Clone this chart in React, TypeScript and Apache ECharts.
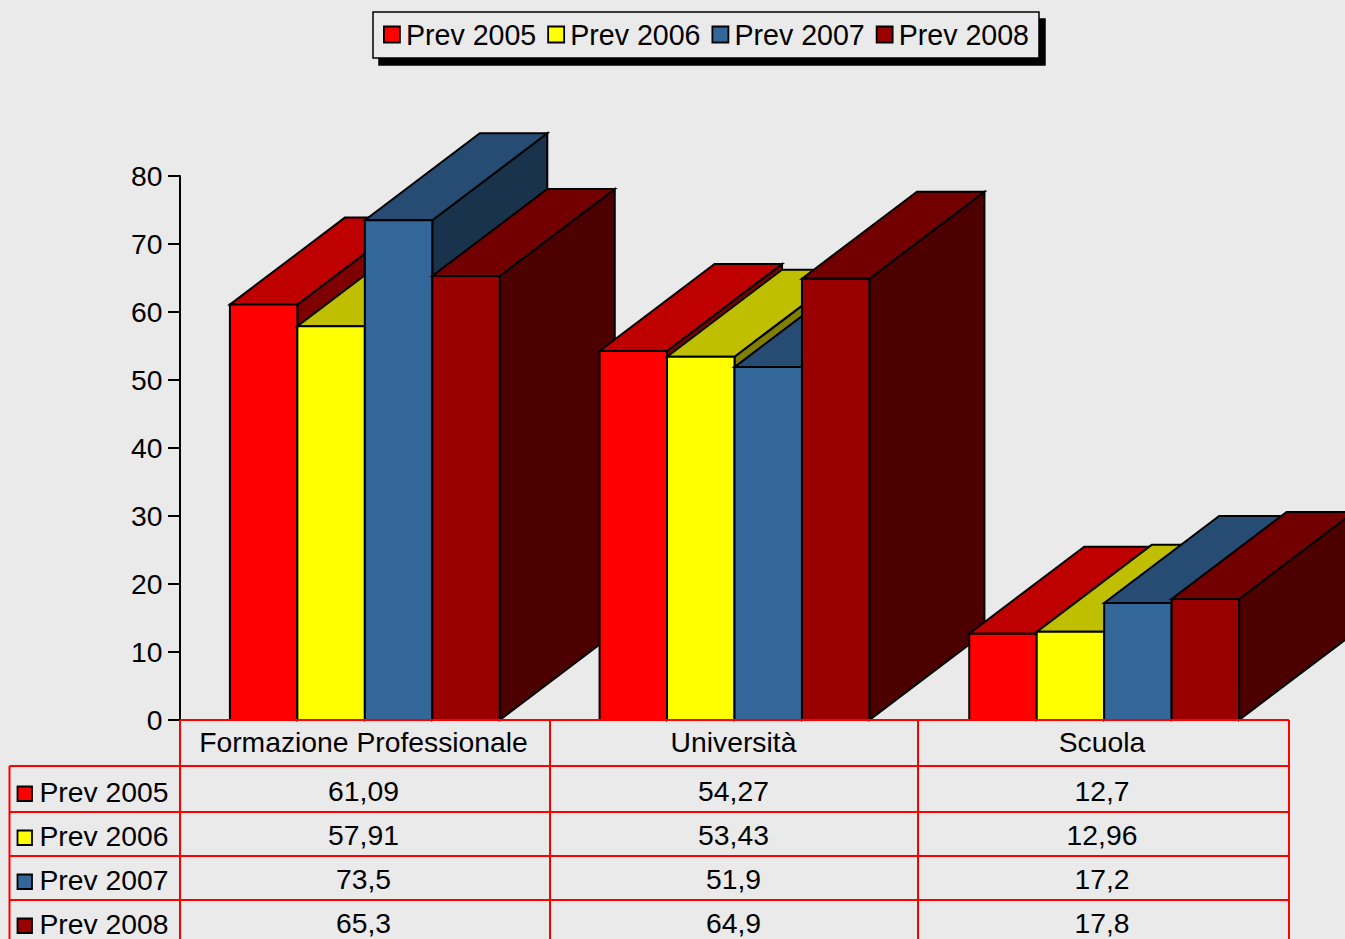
import React, { useEffect, useRef } from "react";
import * as echarts from "echarts";

const categories = ["Formazione Professionale", "Università", "Scuola"];
const seriesNames = ["Prev 2005", "Prev 2006", "Prev 2007", "Prev 2008"];
const prev2005 = [61.09, 54.27, 12.7];
const prev2006 = [57.91, 53.43, 12.96];
const prev2007 = [73.5, 51.9, 17.2];
const prev2008 = [65.3, 64.9, 17.8];
const allValues = [prev2005, prev2006, prev2007, prev2008];
const frontColors = ["#FF0000", "#FFFF00", "#336699", "#990000"];
const topColors = ["#BF0000", "#BFBF00", "#264C73", "#730000"];
const sideColors = ["#7F0000", "#7F7F00", "#19334C", "#4C0000"];

const FONT = "'Liberation Sans', Arial, sans-serif";
const GRID = { left: 180, top: 176, width: 1109, height: 544 };
const DEPTH_X = 115;
const DEPTH_Y = -87;
const BAR_GROUP = 0.73;
const TABLE_RED = "#FF0000";
const rowLines = [766, 812, 856, 900];
const colLines = [180, 550, 918, 1289];
const colCentres = [363.5, 733.5, 1102];
const rowText = [791, 835, 879, 923];

function tableGraphics() {
  const els: any[] = [];
  const line = (x1: number, y1: number, x2: number, y2: number) => ({
    type: "line",
    silent: true,
    shape: { x1, y1, x2, y2 },
    style: { stroke: TABLE_RED, lineWidth: 2 },
    z: 90,
  });
  els.push(line(180, 720, 1289, 720));
  rowLines.forEach((y) => els.push(line(9.5, y, 1289, y)));
  colLines.forEach((x) => els.push(line(x, 720, x, 939)));
  els.push(line(9.5, 766, 9.5, 939));
  categories.forEach((name, c) => {
    els.push({
      type: "text",
      silent: true,
      x: colCentres[c],
      y: 742,
      style: { text: name, font: `28.3px ${FONT}`, fill: "#000", verticalAlign: "middle", align: "center" },
      z: 91,
    });
  });
  seriesNames.forEach((name, i) => {
    els.push({
      type: "rect",
      silent: true,
      shape: { x: 17.5, y: rowText[i] - 4.5, width: 14.5, height: 14.5 },
      style: { fill: frontColors[i], stroke: "#000", lineWidth: 1.8 },
      z: 91,
    });
    els.push({
      type: "text",
      silent: true,
      x: 39.5,
      y: rowText[i] + 1,
      style: { text: name, font: `28.3px ${FONT}`, fill: "#000", verticalAlign: "middle", align: "left" },
      z: 91,
    });
    categories.forEach((_, c) => {
      els.push({
        type: "text",
        silent: true,
        x: colCentres[c],
        y: rowText[i],
        style: {
          text: String(allValues[i][c]).replace(".", ","),
          font: `28.3px ${FONT}`,
          fill: "#000",
          verticalAlign: "middle",
          align: "center",
        },
        z: 91,
      });
    });
  });
  return els;
}

function makeRender(s: number) {
  return (_params: any, api: any) => {
    const c = api.value(0);
    const base = api.coord([c, 0]);
    const top = api.coord([c, api.value(1)]);
    const groupW = api.size([1, 0])[0] * BAR_GROUP;
    const w = groupW / 4;
    const x0 = base[0] - groupW / 2 + s * w;
    const x1 = x0 + w;
    const yT = top[1];
    const yB = base[1];
    const stroke = { stroke: "#000", lineWidth: 2, lineJoin: "miter" };
    const order = c * 100 + s * 10;
    return {
      type: "group",
      children: [
        {
          type: "polygon",
          z2: order,
          shape: { points: [[x1, yB], [x1, yT], [x1 + DEPTH_X, yT + DEPTH_Y], [x1 + DEPTH_X, yB + DEPTH_Y]] },
          style: { fill: sideColors[s], ...stroke },
        },
        {
          type: "polygon",
          z2: order + 1,
          shape: { points: [[x0, yT], [x1, yT], [x1 + DEPTH_X, yT + DEPTH_Y], [x0 + DEPTH_X, yT + DEPTH_Y]] },
          style: { fill: topColors[s], ...stroke },
        },
        {
          type: "polygon",
          z2: order + 2,
          shape: { points: [[x0, yB], [x1, yB], [x1, yT], [x0, yT]] },
          style: { fill: frontColors[s], ...stroke },
        },
      ],
    };
  };
}

export default function App() {
  const ref = useRef<HTMLDivElement>(null);
  useEffect(() => {
    document.body.style.margin = "0";
    document.body.style.overflow = "hidden";
    const chart = echarts.init(ref.current!, undefined, { renderer: "svg" });
    chart.setOption({
      animation: false,
      backgroundColor: "#EAEAEA",
      textStyle: { fontFamily: FONT },
      legend: {
        show: true,
        left: 373,
        top: 12,
        orient: "horizontal",
        data: seriesNames,
        icon: "rect",
        itemWidth: 16,
        itemHeight: 16,
        itemGap: 11,
        padding: [8, 10, 9, 10],
        backgroundColor: "#EAEAEA",
        borderColor: "#000",
        borderWidth: 1.5,
        shadowColor: "#000",
        shadowBlur: 0,
        shadowOffsetX: 6,
        shadowOffsetY: 7,
        selectedMode: false,
        itemStyle: { borderColor: "#000", borderWidth: 1.8 },
        textStyle: { fontFamily: FONT, fontSize: 28.6, color: "#000", padding: [0, 0, 0, 1] },
      },
      grid: { ...GRID, containLabel: false },
      xAxis: {
        type: "category",
        data: categories,
        axisLine: { show: false },
        axisTick: { show: false },
        axisLabel: { show: false },
      },
      yAxis: {
        type: "value",
        min: 0,
        max: 80,
        interval: 10,
        splitLine: { show: false },
        axisLine: { show: true, lineStyle: { color: "#000", width: 2 } },
        axisTick: { show: true, length: 12, lineStyle: { color: "#000", width: 2 } },
        axisLabel: { fontFamily: FONT, fontSize: 28.3, color: "#000", margin: 17.5 },
      },
      series: seriesNames.map((name, s) => ({
        type: "custom",
        name,
        clip: false,
        silent: true,
        itemStyle: { color: frontColors[s] },
        encode: { x: 0, y: 1 },
        data: allValues[s].map((v, c) => [c, v]),
        renderItem: makeRender(s),
      })),
      graphic: { elements: tableGraphics() },
    });
    return () => chart.dispose();
  }, []);
  return <div ref={ref} style={{ width: 1345, height: 939 }} />;
}
